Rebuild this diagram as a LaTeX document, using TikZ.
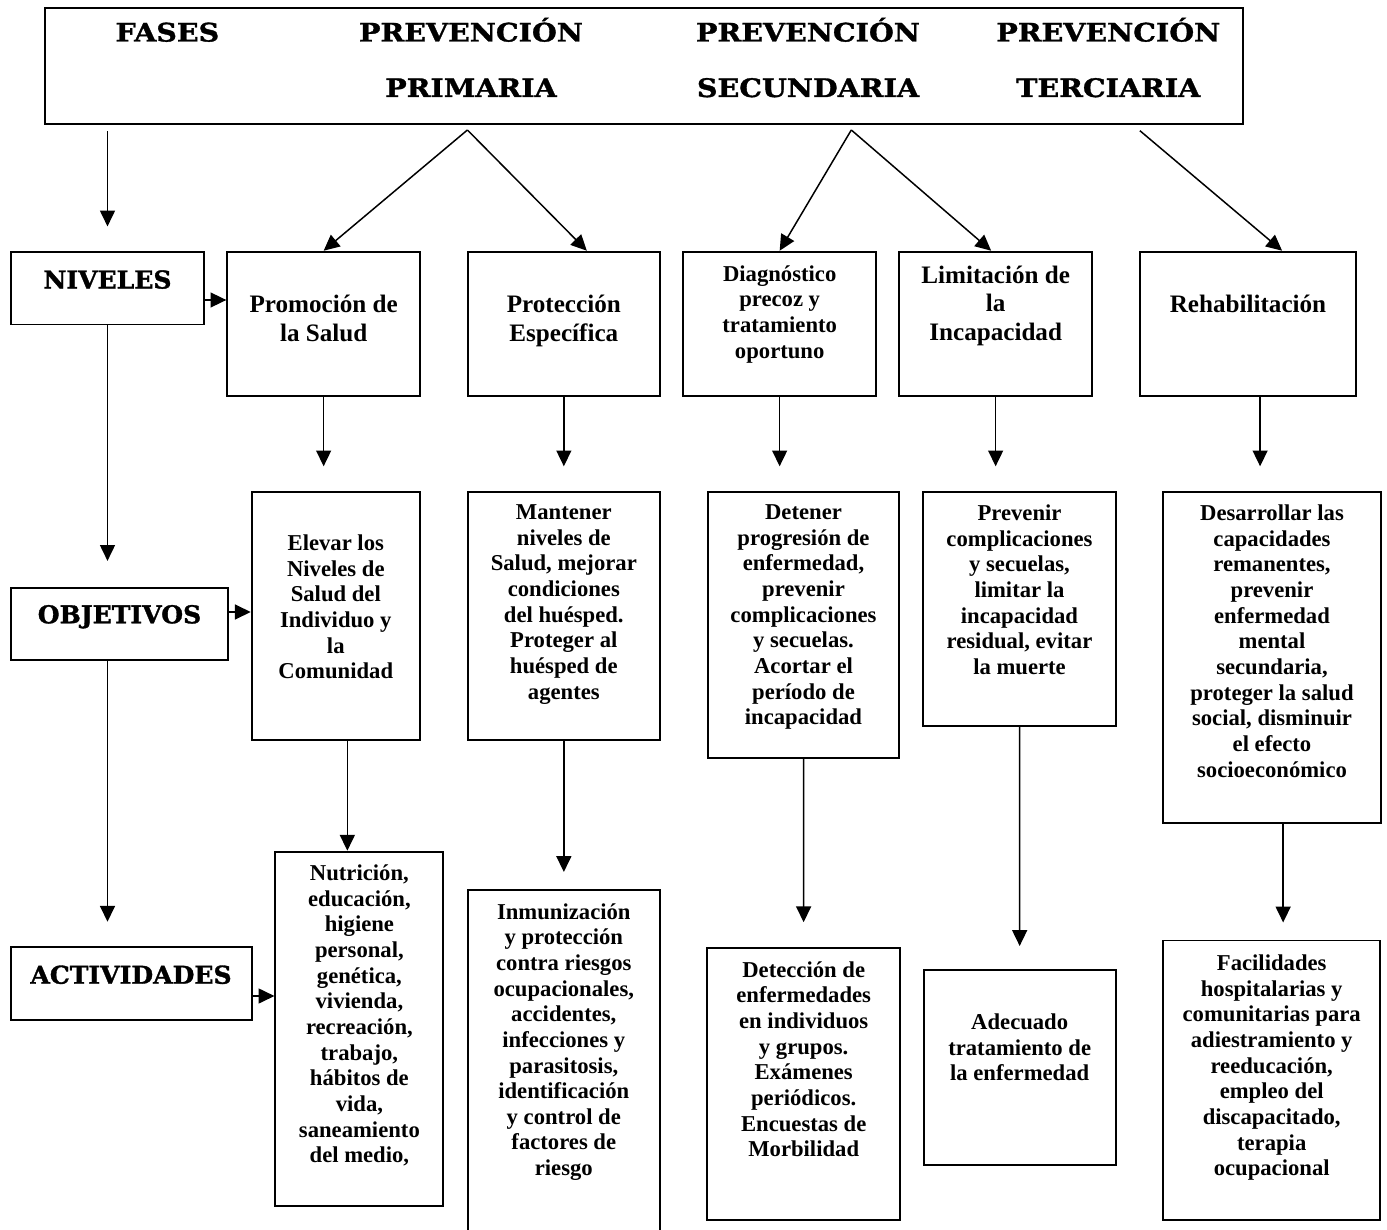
\documentclass[tikz,border=0pt]{standalone}
\usepackage{fontspec}
\setmainfont{Liberation Serif}
\newfontfamily\cabfont[FakeStretch=1.12,FakeBold=1.3]{DejaVu Serif Bold}
\newfontfamily\etiqfont[FakeStretch=1.02,FakeBold=1.3]{DejaVu Serif Bold}
\usetikzlibrary{arrows.meta,fit}

\tikzset{
  caja/.style={draw, line width=1.1pt, inner sep=0pt},
  flecha/.style={-{Triangle[length=9pt,width=8.5pt]}, line width=0.85pt},
  cab/.style={font=\cabfont\fontsize{14.5}{16}\selectfont, anchor=base, inner sep=0pt},
  etiq/.style={font=\etiqfont\fontsize{14}{16}\selectfont, anchor=base, inner sep=0pt},
  txt/.style={font=\fontsize{12.9}{14.6}\selectfont\bfseries, align=center, anchor=north, inner sep=0pt},
  txtg/.style={txt, font=\fontsize{14.3}{16.3}\selectfont\bfseries},
}

\begin{document}
\begin{tikzpicture}[x=0.02cm, y=-0.02cm]
\useasboundingbox (0,0) rectangle (1387,1230);

% cabecera
\node[caja, fit={(44.6,8.3) (1243,124.3)}] (cabecera) {};
\node[cab] (fases) at (167.4,41.5) {FASES};
\foreach \x/\n/\t in {471/prim/PRIMARIA, 808/sec/SECUNDARIA, 1108.3/ter/TERCIARIA} {
    \node[cab] (prev\n) at (\x,41.5) {PREVENCIÓN};
    \node[cab] (tipo\n) at (\x,97) {\t}; % segunda linea
}

% columna izquierda
\node[caja, fit={(11,252) (204,324.5)}] (niveles) {};
\node[caja, fit={(11,587.7) (228,660)}] (objetivos) {};
\node[caja, fit={(11,947.3) (252,1020)}] (actividades) {};
\node[etiq] (tniveles) at (107.5,288.5) {NIVELES};
\node[etiq] (tobjetivos) at (119.5,623.3) {OBJETIVOS};
\node[etiq] (tactividades) at (131,983.7) {ACTIVIDADES};

% niveles
\node[caja, fit={(227.3,251.7) (420,396)}] (promo) {};
\node[caja, fit={(467.7,251.7) (660,396)}] (prote) {};
\node[caja, fit={(683.3,251.7) (876,396)}] (diag) {};
\node[caja, fit={(899.3,251.7) (1092,396)}] (limit) {};
\node[caja, fit={(1139.9,251.7) (1356.3,396)}] (rehab) {};
\node[txtg] (tpromo) at (323.7,295) {Promoción de\\la Salud};
\node[txtg] (tprote) at (563.8,295) {Protección\\Específica};
\node[txt] (tdiag) at (779.7,265) {Diagnóstico\\precoz y\\tratamiento\\oportuno};
\node[txtg] (tlimit) at (995.7,265.5) {Limitación de\\la\\Incapacidad};
\node[txtg] (trehab) at (1248,294.5) {Rehabilitación};

% objetivos
\node[caja, fit={(251.7,491.7) (420,740)}] (elevar) {};
\node[caja, fit={(467.7,491.7) (660,740)}] (mantener) {};
\node[caja, fit={(707.7,491.7) (899.3,758)}] (detener) {};
\node[caja, fit={(923.3,491.7) (1115.7,725.7)}] (prevenir) {};
\node[caja, fit={(1163.3,491.7) (1381,823.4)}] (desarrollar) {};
\node[txt] (televar) at (335.8,534.5) {Elevar los\\Niveles de\\Salud del\\Individuo y\\la\\Comunidad};
\node[txt] (tmantener) at (563.8,504.5) {Mantener\\niveles de\\Salud, mejorar\\condiciones\\del huésped.\\Proteger al\\huésped de\\agentes};
\node[txt] (tdetener) at (803.5,504.5) {Detener\\progresión de\\enfermedad,\\prevenir\\complicaciones\\y secuelas.\\Acortar el\\período de\\incapacidad};
\node[txt] (tprevenir) at (1019.5,504.5) {Prevenir\\complicaciones\\y secuelas,\\limitar la\\incapacidad\\residual, evitar\\la muerte};
\node[txt] (tdesarrollar) at (1272,504.5) {Desarrollar las\\capacidades\\remanentes,\\prevenir\\enfermedad\\mental\\secundaria,\\proteger la salud\\social, disminuir\\el efecto\\socioeconómico};

% actividades
\node[caja, fit={(275.4,851.7) (443.3,1206)}] (nutricion) {};
\node[caja, fit={(467.7,890) (660,1245)}] (inmuniz) {};
\node[caja, fit={(707.3,947.8) (900,1220)}] (deteccion) {};
\node[caja, fit={(923.7,969.8) (1115.7,1164.8)}] (adecuado) {};
\node[caja, fit={(1163.3,940.5) (1380,1220)}] (facilidades) {};
\node[txt] (tnutricion) at (359.4,864.5) {Nutrición,\\educación,\\higiene\\personal,\\genética,\\vivienda,\\recreación,\\trabajo,\\hábitos de\\vida,\\saneamiento\\del medio,};
\node[txt] (tinmuniz) at (563.8,903) {Inmunización\\y protección\\contra riesgos\\ocupacionales,\\accidentes,\\infecciones y\\parasitosis,\\identificación\\y control de\\factores de\\riesgo};
\node[txt] (tdeteccion) at (803.7,961) {Detección de\\enfermedades\\en individuos\\y grupos.\\Exámenes\\periódicos.\\Encuestas de\\Morbilidad};
\node[txt] (tadecuado) at (1019.7,1013.5) {Adecuado\\tratamiento de\\la enfermedad};
\node[txt] (tfacilidades) at (1271.7,954.5) {Facilidades\\hospitalarias y\\comunitarias para\\adiestramiento y\\reeducación,\\empleo del\\discapacitado,\\terapia\\ocupacional};

% flechas de la columna izquierda
\draw[flecha, shorten <=3.4pt, shorten >=14pt] (niveles.north |- cabecera.south) -- (niveles.north);
\draw[flecha, shorten >=14.7pt] (niveles.south) -- (niveles.south |- objetivos.north);
\draw[flecha, shorten >=14pt] (niveles.south |- objetivos.south) -- (niveles.south |- actividades.north);
\draw[flecha] (niveles.east |- 0,300) -- (promo.west |- 0,300);
\draw[flecha] (objetivos.east |- 0,612) -- (elevar.west |- 0,612);
\draw[flecha] (actividades.east |- 0,996) -- (nutricion.west |- 0,996);

% flechas desde la cabecera
\coordinate (vprim) at (467.4,130);
\coordinate (vsec) at (851.3,130);
\coordinate (vter) at (1139.9,130.7);
\draw[flecha] (vprim) -- (promo.north);
\draw[flecha] (vprim) -- ([xshift=0.46cm]prote.north);
\draw[flecha] (vsec) -- (diag.north);
\draw[flecha] (vsec) -- ([xshift=-0.09cm]limit.north);
\draw[flecha] (vter) -- ([xshift=0.68cm]rehab.north);

% niveles -> objetivos
\draw[flecha, shorten >=13.9pt] (promo.south) -- (promo.south |- elevar.north);
\draw[flecha, shorten >=13.9pt] (prote.south) -- (mantener.north);
\draw[flecha, shorten >=13.9pt] (diag.south) -- (diag.south |- detener.north);
\draw[flecha, shorten >=13.9pt] (limit.south) -- (limit.south |- prevenir.north);
\draw[flecha, shorten >=13.9pt] ([xshift=0.24cm]rehab.south) -- ([xshift=0.24cm]rehab.south |- desarrollar.north);

% objetivos -> actividades
\draw[flecha] ([xshift=0.23cm]elevar.south) -- ([xshift=0.23cm]elevar.south |- nutricion.north);
\draw[flecha, shorten >=9.7pt] (mantener.south) -- (inmuniz.north);
\draw[flecha, shorten >=14pt] (detener.south) -- (deteccion.north);
\draw[flecha, shorten >=13pt] (prevenir.south) -- (adecuado.north);
\draw[flecha, shorten >=9.7pt] ([xshift=0.22cm]desarrollar.south) -- ([xshift=0.22cm]desarrollar.south |- facilidades.north);
\end{tikzpicture}
\end{document}
